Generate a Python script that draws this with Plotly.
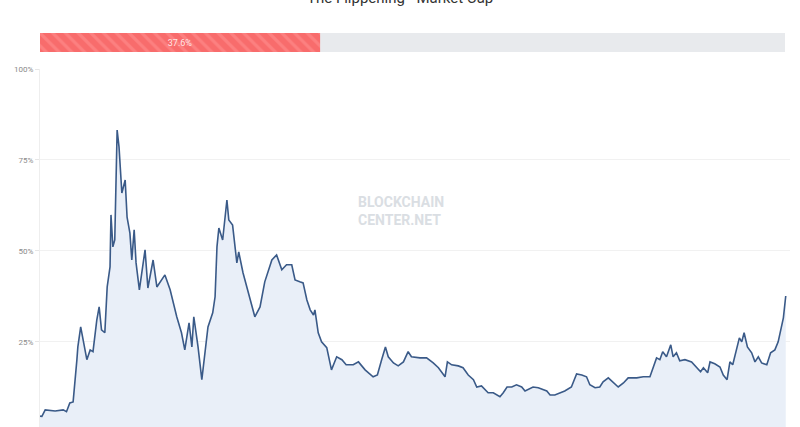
import pandas as pd
import plotly.graph_objects as go

# ---- data ----
start_date = "2017-01-01"
day_offsets = [0, 4, 11, 32, 49, 56, 63, 70, 78, 80, 86, 91, 99, 106, 112, 120, 125, 130, 137, 142,
               148, 150, 154, 158, 163, 167, 173, 180, 184, 190, 194, 199, 203, 210, 222, 228, 239, 247,
               264, 275, 289, 299, 306, 315, 321, 325, 334, 342, 349, 355, 365, 370, 374, 378, 386, 395,
               399, 407, 416, 420, 429, 444, 454, 465, 475, 490, 500, 511, 521, 532, 539, 549, 556, 564,
               571, 578, 581, 588, 595, 606, 611, 616, 627, 638, 647, 662, 673, 687, 704, 713, 722, 730,
               736, 747, 757, 768, 778, 785, 803, 817, 831, 842, 856, 861, 870, 884, 894, 905, 916, 923,
               933, 940, 947, 958, 972, 979, 987, 997, 1007, 1018, 1025, 1042, 1053, 1071, 1078, 1088,
               1099, 1109, 1123, 1134, 1145, 1155, 1162, 1173, 1183, 1190, 1201, 1211, 1222, 1233, 1243,
               1261, 1275, 1289, 1296, 1303, 1310, 1316, 1324, 1333, 1338, 1345, 1352, 1363, 1377, 1388,
               1396, 1402, 1411, 1416, 1426, 1437, 1444, 1452, 1458, 1464, 1471, 1478, 1483, 1488, 1495,
               1504, 1511, 1518, 1525, 1536, 1544, 1553, 1560, 1565, 1571, 1576]
flippening_pct = [4.6, 4.5, 6.3, 6.0, 6.3, 5.8, 8.2, 8.5, 20.1, 23.6, 29.1, 25.5, 20.1, 22.8, 22.3, 31.0,
                  34.6, 28.3, 27.5, 40.1, 45.6, 59.9, 51.1, 53.0, 83.2, 78.6, 65.9, 69.5, 59.3, 54.9, 47.5,
                  55.8, 46.7, 39.3, 50.3, 39.8, 47.5, 40.1, 43.4, 39.3, 31.9, 27.5, 22.8, 30.2, 23.6, 31.9,
                  23.6, 14.6, 22.0, 29.1, 33.0, 37.4, 51.1, 56.3, 53.0, 64.0, 58.5, 57.1, 46.7, 49.7, 44.0,
                  36.5, 31.9, 34.6, 41.5, 47.5, 48.9, 44.8, 46.2, 46.2, 42.0, 41.5, 41.2, 36.5, 33.8, 32.4,
                  33.8, 27.5, 25.0, 23.4, 20.1, 17.3, 20.9, 20.1, 18.7, 18.7, 19.5, 17.3, 15.4, 15.9, 20.1,
                  23.6, 20.9, 19.2, 18.4, 19.5, 22.3, 20.9, 20.6, 20.6, 19.2, 17.9, 15.4, 19.5, 18.7, 18.4,
                  17.9, 15.9, 14.6, 12.6, 12.9, 11.8, 11.0, 11.0, 9.9, 11.0, 12.6, 12.6, 13.2, 12.6, 11.5,
                  12.6, 12.4, 11.5, 10.4, 10.4, 11.0, 11.5, 12.6, 16.2, 15.9, 15.4, 13.2, 12.4, 12.6, 14.0,
                  15.1, 14.0, 12.6, 13.7, 15.1, 15.1, 15.4, 15.4, 18.1, 20.6, 20.1, 22.3, 20.9, 24.2, 20.9,
                  22.0, 19.8, 20.1, 19.5, 18.1, 16.8, 17.9, 16.5, 19.5, 19.0, 18.1, 15.9, 14.6, 19.5, 18.7,
                  22.8, 26.1, 25.0, 27.5, 23.6, 22.0, 19.5, 20.9, 19.2, 18.7, 22.0, 22.8, 25.0, 28.3, 31.6,
                  37.6]
current_pct = 37.6
y_ticks = [25, 50, 75, 100]
y_tick_labels = ["25%", "50%", "75%", "100%"]
title_text = "The Flippening - Market Cap"
x_end_day = 1585

dates = pd.to_datetime(start_date) + pd.to_timedelta(day_offsets, unit="D")
x_end = pd.to_datetime(start_date) + pd.Timedelta(days=x_end_day)

fig = go.Figure()

# main area line
fig.add_trace(go.Scatter(
    x=dates, y=flippening_pct, mode="lines",
    line=dict(color="#3a5a88", width=1.6),
    fill="tozeroy", fillcolor="#e9eff8",
    hoverinfo="skip", showlegend=False,
    xaxis="x", yaxis="y",
))

# progress bar: background + value
fig.add_trace(go.Bar(
    x=[100], y=[0], orientation="h", marker=dict(color="#e8eaed", line=dict(width=0)),
    width=1, xaxis="x2", yaxis="y2", showlegend=False, hoverinfo="skip",
))
fig.add_trace(go.Bar(
    x=[current_pct], y=[0], orientation="h",
    marker=dict(color="#f86c6c", line=dict(width=0),
                pattern=dict(shape="\\", fgcolor="#ff9494", size=9, solidity=0.35, fillmode="overlay")),
    width=1, xaxis="x2", yaxis="y2", showlegend=False, hoverinfo="skip",
    text=[f"{current_pct}%"], textposition="inside", insidetextanchor="middle",
    textfont=dict(color="#ffe6e6", size=9, family="Roboto"),
))

main_top = 358 / 394

fig.update_layout(
    width=800, height=427,
    margin=dict(l=40, r=10, t=33, b=0),
    paper_bgcolor="white", plot_bgcolor="white",
    barmode="overlay",
    font=dict(family="Roboto, sans-serif"),
    xaxis=dict(domain=[0, 1], range=[dates[0], x_end], showgrid=False, showticklabels=False,
               zeroline=False, showline=False, ticks=""),
    yaxis=dict(domain=[0, main_top], range=[1.6, 100], tickvals=y_ticks, ticktext=y_tick_labels,
               showgrid=True, gridcolor="#f1f1f1", gridwidth=1, zeroline=False,
               showline=True, linecolor="#eeeeee", linewidth=1,
               ticks="outside", ticklen=4, tickcolor="#e6e6e6",
               tickfont=dict(size=8, color="#8a8a8a")),
    xaxis2=dict(domain=[0, 745 / 750], range=[0, 100], anchor="y2", visible=False, fixedrange=True),
    yaxis2=dict(domain=[(427 - 52) / 394, 1.0], range=[-0.5, 0.5], anchor="x2", visible=False,
                fixedrange=True),
    uniformtext=dict(mode="show", minsize=8),
    annotations=[
        dict(text=title_text, xref="paper", yref="paper", x=(400 - 40) / 750, y=(427 + 2) / 394,
             xanchor="center", yanchor="middle", showarrow=False,
             font=dict(size=15, color="#333333", family="Roboto")),
        dict(text="<b>BLOCKCHAIN<br>CENTER.NET</b>", xref="paper", yref="paper",
             x=(401 - 40) / 750, y=(427 - 211) / 394, xanchor="center", yanchor="middle",
             showarrow=False, align="left",
             font=dict(size=14, color="#dadee3", family="Roboto"), opacity=1),
    ],
)

fig.write_html("out.html", config={"displayModeBar": False},
               post_script="document.body.style.margin='0';document.body.style.overflow='hidden';")
